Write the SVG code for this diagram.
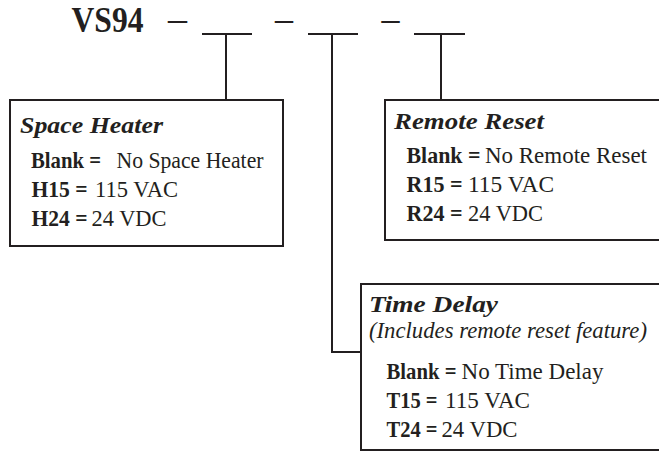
<svg xmlns="http://www.w3.org/2000/svg" width="659" height="453" viewBox="0 0 659 453">
<style>
.t{font-family:"Liberation Serif","Times New Roman",serif;fill:#231f20}
.hd{font-size:35px;font-weight:bold}
.ds{font-size:30px;font-weight:bold}
.ttl{font-size:24px;font-weight:bold;font-style:italic}
.b{font-size:24px}
.bb{font-size:24px;font-weight:bold}
.it{font-size:23px;font-style:italic}
.box{fill:#fff;stroke:#231f20;stroke-width:2}
.ln{stroke:#231f20;stroke-width:2;fill:none}
</style>
<rect width="659" height="453" fill="#fff"/>
<g id="title">
<text class="t hd" x="71.5" y="31.5" textLength="72" lengthAdjust="spacingAndGlyphs">VS94</text>
<text class="t ds" x="168" y="29" textLength="19" lengthAdjust="spacingAndGlyphs">–</text>
<text class="t ds" x="275" y="29" textLength="18" lengthAdjust="spacingAndGlyphs">–</text>
<text class="t ds" x="381.5" y="29" textLength="18" lengthAdjust="spacingAndGlyphs">–</text>
</g>
<g id="connectors">
<path class="ln" d="M202 34H252M308 34H358M414 34H465"/>
<path class="ln" d="M226 34V100"/>
<path class="ln" d="M332 34V352H361"/>
<path class="ln" d="M441 34V100"/>
</g>
<g id="space-heater">
<rect class="box" x="10" y="100" width="273" height="146"/>
<text class="t ttl" x="20" y="133" textLength="143" lengthAdjust="spacingAndGlyphs">Space Heater</text>
<text class="t bb" x="31" y="168" textLength="70" lengthAdjust="spacingAndGlyphs">Blank =</text>
<text class="t b" x="116.5" y="168" textLength="147" lengthAdjust="spacingAndGlyphs">No Space Heater</text>
<text class="t bb" x="31.5" y="197" textLength="56" lengthAdjust="spacingAndGlyphs">H15 =</text>
<text class="t b" x="95" y="197" textLength="83" lengthAdjust="spacingAndGlyphs">115 VAC</text>
<text class="t bb" x="31.5" y="226" textLength="56" lengthAdjust="spacingAndGlyphs">H24 =</text>
<text class="t b" x="91.5" y="226" textLength="75" lengthAdjust="spacingAndGlyphs">24 VDC</text>
</g>
<g id="remote-reset">
<rect class="box" x="385" y="100" width="280" height="140"/>
<text class="t ttl" x="394" y="129" textLength="150" lengthAdjust="spacingAndGlyphs">Remote Reset</text>
<text class="t bb" x="406.5" y="163" textLength="74" lengthAdjust="spacingAndGlyphs">Blank =</text>
<text class="t b" x="485" y="163" textLength="162" lengthAdjust="spacingAndGlyphs">No Remote Reset</text>
<text class="t bb" x="406.5" y="192" textLength="56" lengthAdjust="spacingAndGlyphs">R15 =</text>
<text class="t b" x="468" y="192" textLength="86" lengthAdjust="spacingAndGlyphs">115 VAC</text>
<text class="t bb" x="406.5" y="221" textLength="56" lengthAdjust="spacingAndGlyphs">R24 =</text>
<text class="t b" x="468" y="221" textLength="75" lengthAdjust="spacingAndGlyphs">24 VDC</text>
</g>
<g id="time-delay">
<rect class="box" x="361" y="284" width="300" height="166"/>
<text class="t ttl" x="369" y="312" textLength="129" lengthAdjust="spacingAndGlyphs">Time Delay</text>
<text class="t it" x="369" y="338" textLength="278" lengthAdjust="spacingAndGlyphs">(Includes remote reset feature)</text>
<text class="t bb" x="386.5" y="379" textLength="70" lengthAdjust="spacingAndGlyphs">Blank =</text>
<text class="t b" x="461.5" y="379" textLength="142" lengthAdjust="spacingAndGlyphs">No Time Delay</text>
<text class="t bb" x="386.5" y="408" textLength="51" lengthAdjust="spacingAndGlyphs">T15 =</text>
<text class="t b" x="445" y="408" textLength="85" lengthAdjust="spacingAndGlyphs">115 VAC</text>
<text class="t bb" x="386.5" y="436.5" textLength="51" lengthAdjust="spacingAndGlyphs">T24 =</text>
<text class="t b" x="441.5" y="436.5" textLength="76" lengthAdjust="spacingAndGlyphs">24 VDC</text>
</g>
</svg>
